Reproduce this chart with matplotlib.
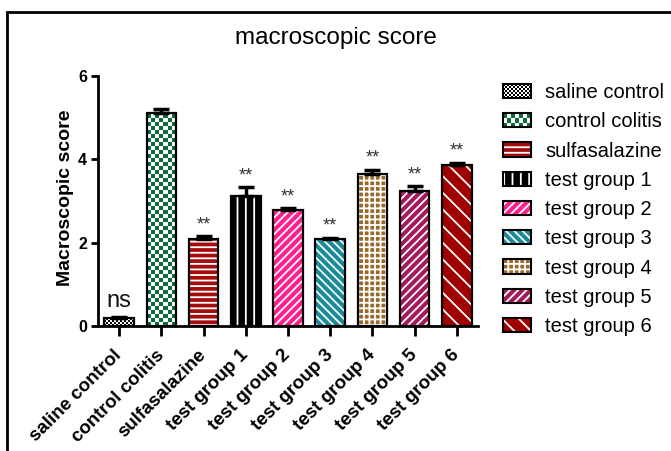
import numpy as np
import matplotlib
matplotlib.use("Agg")
import matplotlib.pyplot as plt
from matplotlib.patches import Rectangle
from matplotlib.colors import ListedColormap
from matplotlib.legend_handler import HandlerBase

plt.rcParams['font.family'] = ['Liberation Sans', 'DejaVu Sans']
plt.rcParams['hatch.color'] = 'white'
plt.rcParams['hatch.linewidth'] = 1.3

# ---- data ----
categories = ["saline control", "control colitis", "sulfasalazine", "test group 1",
              "test group 2", "test group 3", "test group 4", "test group 5", "test group 6"]
values = [0.2, 5.12, 2.09, 3.12, 2.79, 2.09, 3.66, 3.24, 3.87]
errors = [0.02, 0.08, 0.06, 0.21, 0.04, 0.03, 0.09, 0.11, 0.05]
signif = ["ns", "", "**", "**", "**", "**", "**", "**", "**"]
yticks = [0, 2, 4, 6]

# ---- styles ----
colors = ['#000000', '#0b6b3a', '#a50d0d', '#000000', '#ff1f8f', '#1b8a9b',
          '#9a6a2a', '#a3195b', '#a00000']
hatches = ['checker', 'checker', '---', '||', '////', '\\\\\\\\', '+++', '////', '\\\\']
checker_px = {0: 2.0, 1: 4.0}

W, H, DPI = 671, 451, 100
fig = plt.figure(figsize=(W / DPI, H / DPI), dpi=DPI)
ax = fig.add_axes([98 / W, 1 - 326 / H, (478 - 98) / W, (326 - 76) / H])
ax.set_xlim(-0.5, 8.5)
ax.set_ylim(0, 6)

x = np.arange(len(categories))
bw = 0.7
px_per_unit = (326 - 76) / 6.0
px_per_xunit = (478 - 98) / 9.0

for i, (v, c, h) in enumerate(zip(values, colors, hatches)):
    if h == 'checker':
        rect = ax.bar(x[i], v, width=bw, color='white', linewidth=0, zorder=2)[0]
        cpx = checker_px[i]
        nx = max(1, int(round(bw * px_per_xunit / cpx)))
        xe = np.linspace(x[i] - bw / 2, x[i] + bw / 2, nx + 1)
        dy = cpx / px_per_unit
        ye = np.arange(0, v + dy, dy)
        Z = (np.add.outer(np.arange(len(ye) - 1), np.arange(nx)) % 2).astype(float)
        mesh = ax.pcolormesh(xe, ye, Z, cmap=ListedColormap([c, 'white']),
                             vmin=0, vmax=1, zorder=2.5, shading='flat')
        mesh.set_clip_path(rect)
    else:
        ax.bar(x[i], v, width=bw, color=c, hatch=h, linewidth=0, zorder=2)
    ax.bar(x[i], v, width=bw, fill=False, edgecolor='black', linewidth=1.6, zorder=3)

ax.errorbar(x, values, yerr=[np.zeros(len(values)), errors], fmt='none',
            ecolor='black', elinewidth=2.5, capsize=6, capthick=2.5, zorder=4)

for i, (v, e, s) in enumerate(zip(values, errors, signif)):
    if not s:
        continue
    if s == 'ns':
        ax.annotate(s, (x[i], v + e), xytext=(0, 5), textcoords='offset pixels',
                    ha='center', va='bottom', fontsize=17, color='#111111')
    else:
        ax.annotate(s, (x[i], v + e), xytext=(0, 3), textcoords='offset pixels',
                    ha='center', va='bottom', fontsize=13, color='#333333')

for sp in ['top', 'right']:
    ax.spines[sp].set_visible(False)
for sp in ['left', 'bottom']:
    ax.spines[sp].set_linewidth(2)

ax.set_yticks(yticks)
ax.set_yticklabels([str(t) for t in yticks], fontweight='bold', fontsize=11.5)
ax.set_xticks(x)
ax.set_xticklabels(categories, rotation=45, ha='right', va='center',
                   rotation_mode='anchor', fontweight='bold', fontsize=13.5)
ax.tick_params(axis='both', width=2)
ax.tick_params(axis='x', length=7, pad=12)
ax.tick_params(axis='y', length=5, pad=3)

fig.text(65 / W, 1 - 198 / H, "Macroscopic score", rotation=90, ha='center',
         va='center', fontsize=14, fontweight='bold')
fig.text(336 / W, 1 - 38 / H, "macroscopic score", ha='center', va='center', fontsize=17.5)

# outer frame
fig.add_artist(Rectangle((7 / W, -0.2), 1.5, 0.2 + (1 - 12 / H),
                         transform=fig.transFigure, fill=False, edgecolor='black',
                         linewidth=2))


# ---- legend ----
class HandlerBar(HandlerBase):
    def __init__(self, color, hatch, cells=None):
        super().__init__()
        self.color, self.hatch, self.cells = color, hatch, cells

    def create_artists(self, legend, orig_handle, xdescent, ydescent, width,
                       height, fontsize, trans):
        x0, y0 = -xdescent, -ydescent
        arts = []
        if self.hatch == 'checker':
            nx, ny = self.cells
            arts.append(Rectangle((x0, y0), width, height, facecolor='white',
                                  linewidth=0, transform=trans))
            cw, ch = width / nx, height / ny
            for a in range(nx):
                for b in range(ny):
                    if (a + b) % 2 == 0:
                        arts.append(Rectangle((x0 + a * cw, y0 + b * ch), cw, ch,
                                              facecolor=self.color, linewidth=0,
                                              transform=trans))
        else:
            arts.append(Rectangle((x0, y0), width, height, facecolor=self.color,
                                  hatch=self.hatch, linewidth=0, transform=trans))
        arts.append(Rectangle((x0, y0), width, height, fill=False,
                              edgecolor='black', linewidth=1.5, transform=trans))
        return arts


handles = [Rectangle((0, 0), 1, 1) for _ in categories]
hmap = {}
for i, hd in enumerate(handles):
    cells = (14, 7) if i == 0 else (7, 3)
    hmap[hd] = HandlerBar(colors[i], hatches[i], cells)

fig.legend(handles, categories, handler_map=hmap, loc='upper left',
           bbox_to_anchor=(503 / W, 1 - 83 / H), frameon=False, fontsize=14.5,
           borderaxespad=0, borderpad=0, handlelength=1.4, handleheight=0.72,
           handletextpad=0.7, labelspacing=0.51)

fig.savefig("out.png", dpi=DPI)
